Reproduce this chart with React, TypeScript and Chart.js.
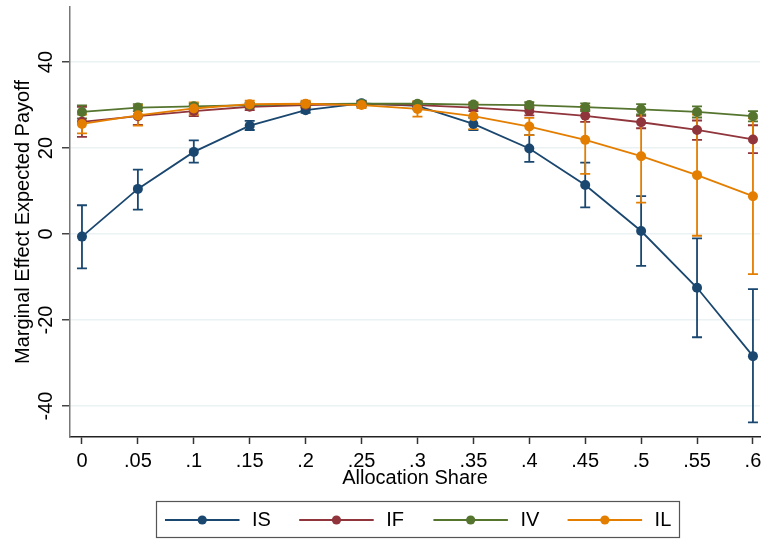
import React, { useEffect, useRef } from 'react';
import { Chart, registerables } from 'chart.js';

Chart.register(...registerables);

const FONT = "'Liberation Sans', Arial, sans-serif";

// ---- data ----
const xValues = [0, 0.05, 0.1, 0.15, 0.2, 0.25, 0.3, 0.35, 0.4, 0.45, 0.5, 0.55, 0.6];
const xTickLabels = ['0', '.05', '.1', '.15', '.2', '.25', '.3', '.35', '.4', '.45', '.5', '.55', '.6'];
const yTickValues = [-40, -20, 0, 20, 40];
const yTickLabels = ['-40', '-20', '0', '20', '40'];

const seriesNames = ['IS', 'IF', 'IV', 'IL'];
const seriesColors = ['#1a476f', '#90353b', '#55752f', '#e37e00'];

const isMean = [-0.6, 10.5, 19.1, 25.2, 28.8, 30.4, 29.8, 25.6, 19.9, 11.4, 0.7, -12.5, -28.4];
const isLow = [-8.0, 5.7, 16.6, 24.2, 28.2, 29.8, 29.0, 24.2, 16.8, 6.2, -7.4, -24.0, -43.8];
const isHigh = [6.7, 15.0, 21.8, 26.3, 29.4, 31.0, 30.6, 27.0, 23.0, 16.6, 8.8, -1.0, -12.8];

const ifMean = [26.1, 27.4, 28.6, 29.6, 30.0, 30.2, 30.0, 29.4, 28.6, 27.5, 26.0, 24.2, 22.0];
const ifLow = [22.6, 25.4, 27.4, 28.8, 29.4, 29.6, 29.4, 28.6, 27.6, 26.1, 24.6, 21.9, 18.8];
const ifHigh = [29.6, 29.4, 29.8, 30.4, 30.6, 30.8, 30.6, 30.2, 29.6, 28.9, 27.5, 26.4, 25.3];

const ivMean = [28.4, 29.4, 29.7, 30.0, 30.2, 30.3, 30.3, 30.1, 30.0, 29.5, 29.0, 28.4, 27.4];
const ivLow = [26.9, 28.6, 29.1, 29.5, 29.7, 29.8, 29.8, 29.6, 29.3, 28.6, 27.8, 27.1, 26.2];
const ivHigh = [29.9, 30.2, 30.3, 30.5, 30.7, 30.8, 30.8, 30.6, 30.7, 30.4, 30.2, 29.7, 28.6];

const ilMean = [25.6, 27.6, 29.2, 30.2, 30.3, 30.0, 29.1, 27.4, 25.0, 21.9, 18.1, 13.7, 8.8];
const ilLow = [23.4, 25.2, 27.8, 29.4, 29.6, 29.3, 27.3, 24.4, 23.0, 14.0, 7.3, -0.4, -9.3];
const ilHigh = [27.8, 30.0, 30.6, 31.0, 31.0, 30.7, 30.9, 30.4, 27.0, 29.8, 28.9, 27.8, 26.9];

const seriesMeans = [isMean, ifMean, ivMean, ilMean];
const seriesLows = [isLow, ifLow, ivLow, ilLow];
const seriesHighs = [isHigh, ifHigh, ivHigh, ilHigh];

const xAxisTitle = 'Allocation Share';
const yAxisTitle = 'Marginal Effect Expected Payoff';

// ---- plugins ----
const errorBarsPlugin = {
  id: 'errorBars',
  beforeDatasetsDraw(chart: any) {
    const { ctx, scales } = chart;
    const x = scales.x;
    const y = scales.y;
    seriesNames.forEach((_, s) => {
      ctx.save();
      ctx.strokeStyle = seriesColors[s];
      ctx.lineWidth = 1.8;
      xValues.forEach((xv, i) => {
        const px = x.getPixelForValue(xv);
        const lo = y.getPixelForValue(seriesLows[s][i]);
        const hi = y.getPixelForValue(seriesHighs[s][i]);
        ctx.beginPath();
        ctx.moveTo(px, lo);
        ctx.lineTo(px, hi);
        ctx.moveTo(px - 5, lo);
        ctx.lineTo(px + 5, lo);
        ctx.moveTo(px - 5, hi);
        ctx.lineTo(px + 5, hi);
        ctx.stroke();
      });
      ctx.restore();
    });
  },
};

const yLabelsPlugin = {
  id: 'yLabels',
  afterDraw(chart: any) {
    const { ctx, scales, chartArea } = chart;
    const y = scales.y;
    ctx.save();
    ctx.fillStyle = '#000';
    ctx.font = `20px ${FONT}`;
    ctx.textAlign = 'center';
    ctx.textBaseline = 'middle';
    yTickValues.forEach((v, i) => {
      const py = y.getPixelForValue(v);
      ctx.save();
      ctx.translate(chartArea.left - 24, py);
      ctx.rotate(-Math.PI / 2);
      ctx.fillText(yTickLabels[i], 0, 0);
      ctx.restore();
    });
    ctx.restore();
  },
};

const legendPlugin = {
  id: 'boxLegend',
  afterDraw(chart: any) {
    const { ctx } = chart;
    const boxX = 156.5;
    const boxY = 501.5;
    const boxW = 523;
    const boxH = 36;
    const firstX = 165;
    const colStep = 134.2;
    const lineLen = 74.5;
    const midY = 520;
    ctx.save();
    ctx.strokeStyle = '#555';
    ctx.lineWidth = 1.2;
    ctx.strokeRect(boxX, boxY, boxW, boxH);
    ctx.font = `20px ${FONT}`;
    ctx.textAlign = 'left';
    ctx.textBaseline = 'middle';
    seriesNames.forEach((name, i) => {
      const sx = firstX + i * colStep;
      ctx.strokeStyle = seriesColors[i];
      ctx.lineWidth = 1.8;
      ctx.beginPath();
      ctx.moveTo(sx, midY);
      ctx.lineTo(sx + lineLen, midY);
      ctx.stroke();
      ctx.fillStyle = seriesColors[i];
      ctx.beginPath();
      ctx.arc(sx + lineLen / 2, midY, 4.6, 0, Math.PI * 2);
      ctx.fill();
      ctx.fillStyle = '#000';
      ctx.fillText(name, sx + lineLen + 12.5, midY);
    });
    ctx.restore();
  },
};

export default function App() {
  const canvasRef = useRef<HTMLCanvasElement | null>(null);

  useEffect(() => {
    if (!canvasRef.current) return;
    const datasets = seriesNames.map((name, s) => ({
      label: name,
      data: xValues.map((xv, i) => ({ x: xv, y: seriesMeans[s][i] })),
      borderColor: seriesColors[s],
      backgroundColor: seriesColors[s],
      pointBackgroundColor: seriesColors[s],
      pointBorderColor: seriesColors[s],
      pointBorderWidth: 0,
      pointRadius: 5,
      borderWidth: 1.8,
      tension: 0,
      fill: false,
      order: seriesNames.length - 1 - s,
    }));

    const chart = new Chart(canvasRef.current, {
      type: 'line',
      data: { datasets },
      options: {
        animation: false,
        responsive: false,
        devicePixelRatio: 1,
        layout: { padding: { top: 7, bottom: 50, left: 0, right: 0 } },
        plugins: {
          legend: { display: false },
          tooltip: { enabled: false },
        },
        scales: {
          x: {
            type: 'linear',
            min: -0.0107,
            max: 0.6063,
            afterBuildTicks: (s: any) => {
              s.ticks = xValues.map((v) => ({ value: v }));
            },
            afterFit: (s: any) => {
              s.height = 53;
              s.paddingLeft = 0;
              s.paddingRight = 0;
            },
            ticks: {
              callback: (_v: any, i: number) => xTickLabels[i],
              color: '#000',
              font: { size: 20, family: FONT },
              padding: 5,
              maxRotation: 0,
              minRotation: 0,
              autoSkip: false,
            },
            grid: {
              drawOnChartArea: false,
              drawTicks: true,
              tickLength: 7,
              tickColor: '#333',
              tickWidth: 1.5,
            },
            border: { display: true, color: '#222', width: 1.5 },
            title: {
              display: true,
              text: xAxisTitle,
              color: '#000',
              font: { size: 20, family: FONT },
              padding: 0,
            },
          },
          y: {
            type: 'linear',
            min: -47.2,
            max: 52.8,
            afterBuildTicks: (s: any) => {
              s.ticks = yTickValues.map((v) => ({ value: v }));
            },
            afterFit: (s: any) => {
              s.width = 70;
              s.paddingTop = 0;
              s.paddingBottom = 0;
            },
            ticks: { display: false },
            grid: {
              color: '#eaf2f3',
              lineWidth: 1.5,
              drawTicks: true,
              tickLength: 8,
              tickColor: '#444',
              tickWidth: 1.5,
            },
            border: { display: true, color: '#777', width: 1.5 },
            title: {
              display: true,
              text: yAxisTitle,
              color: '#000',
              font: { size: 20, family: FONT },
              padding: { top: 11, bottom: 0 },
            },
          },
        },
      },
      plugins: [errorBarsPlugin, yLabelsPlugin, legendPlugin],
    } as any);

    return () => chart.destroy();
  }, []);

  return (
    <div style={{ position: 'absolute', left: 0, top: 0, width: 765, height: 540, background: '#fff' }}>
      <canvas ref={canvasRef} width={765} height={540} style={{ display: 'block', width: 765, height: 540 }} />
    </div>
  );
}
